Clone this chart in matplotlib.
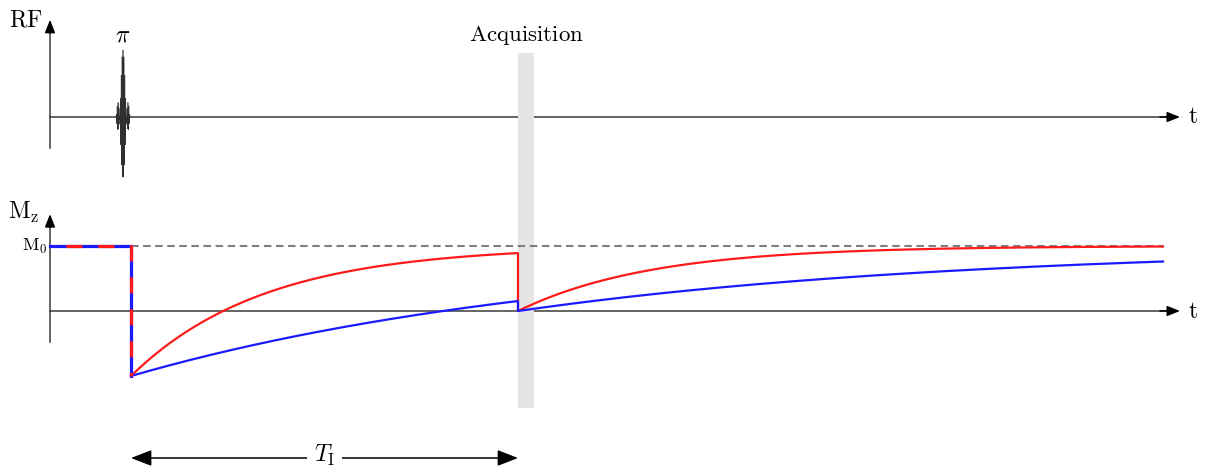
import numpy as np
import matplotlib
matplotlib.use("Agg")
import matplotlib.pyplot as plt
from matplotlib.patches import Rectangle

plt.rcParams['mathtext.fontset'] = 'cm'
plt.rcParams['font.family'] = ['DejaVu Serif']

# --- sequence timing (arbitrary time units) ---
M0 = 1.0
t_rf = 73.0          # centre of the RF inversion pulse
t_inv = 81.0         # moment the magnetisation is inverted
TI = 387.0           # inversion time
acq_width = 16.0     # duration of the acquisition window
t_end = 1113.0       # end of the drawn recovery
t_axis = 1130.0      # tip of the time axes
T1_short = 133.0     # red tissue
T1_long = 450.0      # blue tissue
curve_colors = ['#ff1a1a', '#1a1aff']
T1_values = [T1_short, T1_long]

t_acq = t_inv + TI

W, H = 1207, 467
fig = plt.figure(figsize=(W / 100, H / 100), dpi=100)

# pixel-scale helpers used only to set axis limits
x0_px = 50
rf_base_px, rf_scale = 117, 67.0
mz_base_px, mz_scale = 311, 65.0

ax_rf = fig.add_axes([0, 0, 1, 1])
ax_rf.set_xlim(-x0_px, W - x0_px)
ax_rf.set_ylim(-(H - rf_base_px) / rf_scale, rf_base_px / rf_scale)
ax_rf.axis('off')

ax_mz = fig.add_axes([0, 0, 1, 1])
ax_mz.set_xlim(-x0_px, W - x0_px)
ax_mz.set_ylim(-(H - mz_base_px) / mz_scale, mz_base_px / mz_scale)
ax_mz.axis('off')
ax_mz.patch.set_alpha(0)

axis_col = '#3a3a3a'
axis_lw = 1.1
head = dict(arrowstyle='-|>,head_length=0.55,head_width=0.22', color='black',
            lw=axis_lw, shrinkA=0, shrinkB=0, mutation_scale=14)

def draw_axes(ax, ybot, ytop):
    ax.plot([0, 0], [ybot, ytop - 0.08], color=axis_col, lw=axis_lw, zorder=1)
    ax.annotate('', xy=(0, ytop), xytext=(0, ytop - 0.2),
                arrowprops=dict(head), zorder=1)
    ax.plot([0, t_axis - 6], [0, 0], color=axis_col, lw=axis_lw, zorder=1)
    ax.annotate('', xy=(t_axis, 0), xytext=(t_axis - 20, 0),
                arrowprops=dict(head), zorder=1)
    ax.text(t_axis + 8, 0, r'$\mathrm{t}$', fontsize=17, ha='left', va='center')

# RF panel
draw_axes(ax_rf, -0.46, 1.45)
ax_rf.text(-7, 1.45, r'$\mathrm{RF}$', fontsize=17, ha='right', va='center')
tp = np.linspace(-7, 7, 3000)
env = np.sinc(tp / 3.5)
pulse = env * np.cos(2 * np.pi * tp / 0.9)
pulse = np.where(pulse < 0, 0.92 * pulse, pulse)
ax_rf.plot(t_rf + tp, pulse, color='#303030', lw=0.45, zorder=3)
ax_rf.text(t_rf, 1.22, r'$\pi$', fontsize=17, ha='center', va='center')

# Mz panel
draw_axes(ax_mz, -0.48, 1.49)
ax_mz.text(-26, 1.52, r'$\mathrm{M_z}$', fontsize=17, ha='center', va='center')
ax_mz.text(-3, M0, r'$\mathrm{M_0}$', fontsize=13, ha='right', va='center')

# acquisition window spanning both panels
band = Rectangle((t_acq, (mz_base_px - 408) / mz_scale), acq_width,
                 (408 - 53) / mz_scale, facecolor='#e5e5e5', edgecolor='none',
                 zorder=2, clip_on=False)
ax_mz.add_patch(band)
ax_mz.text(t_acq + acq_width / 2, (mz_base_px - 36) / mz_scale,
           r'$\mathrm{Acquisition}$', fontsize=16.5, ha='center', va='center')

# equilibrium level
ax_mz.plot([t_inv, t_end], [M0, M0], color='#7f7f7f', lw=1.5,
           dashes=(3.6, 2.2), zorder=2.5)

# common part before and during the inversion
pre_t = [0, t_inv, t_inv]
pre_m = [M0, M0, -M0]
ax_mz.plot(pre_t, pre_m, color=curve_colors[1], lw=2.3, zorder=4,
           solid_joinstyle='miter')
ax_mz.plot(pre_t, pre_m, color=curve_colors[0], lw=2.3, zorder=4.1,
           linestyle=(5.0, (5.0, 5.0)))

# inversion recovery, saturation by the readout, then saturation recovery
for T1, col in zip(T1_values, curve_colors):
    ta = np.linspace(t_inv, t_acq, 400)
    ma = M0 * (1 - 2 * np.exp(-(ta - t_inv) / T1))
    tb = np.linspace(t_acq, t_end, 500)
    mb = M0 * (1 - np.exp(-(tb - t_acq) / T1))
    tt = np.concatenate([ta, tb])
    mm = np.concatenate([ma, mb])
    ax_mz.plot(tt, mm, color=col, lw=1.6, zorder=3)

# inversion time marker
y_ti = (mz_base_px - 458) / mz_scale
ax_mz.annotate('', xy=(t_acq, y_ti), xytext=(t_inv, y_ti),
               arrowprops=dict(arrowstyle='<|-|>,head_length=0.9,head_width=0.35',
                               color='black', lw=axis_lw, shrinkA=0, shrinkB=0,
                               mutation_scale=14))
ax_mz.text((t_inv + t_acq) / 2, (mz_base_px - 462) / mz_scale, r'$T_\mathrm{I}$',
           fontsize=17, ha='center', va='baseline',
           bbox=dict(facecolor='white', edgecolor='none', pad=5))

fig.savefig('out.png', dpi=100)
